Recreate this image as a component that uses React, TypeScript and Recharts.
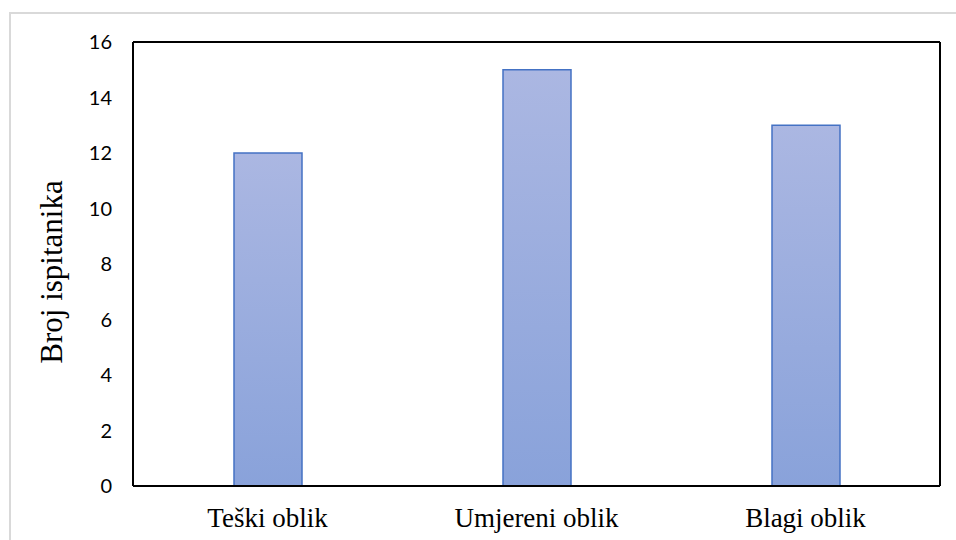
import React from 'react';
import { BarChart, Bar, XAxis, YAxis } from 'recharts';

const categories = ['Teški oblik', 'Umjereni oblik', 'Blagi oblik'];
const counts = [12, 15, 13];
const yTicks = [0, 2, 4, 6, 8, 10, 12, 14, 16];

const data = categories.map((name, i) => ({ name, value: counts[i] }));

const YLabel = (props: any) => {
  const vb = props.viewBox || {};
  const cx = 62;
  const cy = (vb.y ?? 0) + (vb.height ?? 0) / 2 + 8;
  return (
    <text
      x={cx}
      y={cy}
      transform={`rotate(-90, ${cx}, ${cy})`}
      textAnchor="middle"
      fontFamily="'Liberation Serif', 'Times New Roman', serif"
      fontSize={31}
      fill="#000"
    >
      Broj ispitanika
    </text>
  );
};

export default function App() {
  return (
    <div style={{ position: 'absolute', left: 0, top: 0, width: 956, height: 540, background: '#fff', overflow: 'hidden' }}>
      <div
        style={{
          position: 'absolute',
          left: 9,
          top: 12,
          width: 960,
          height: 540,
          borderLeft: '2px solid #d9d9d9',
          borderTop: '2px solid #d9d9d9',
        }}
      />
      <div style={{ position: 'absolute', left: 0, top: 0 }}>
        <BarChart
          width={956}
          height={540}
          data={data}
          margin={{ top: 41, right: 15, bottom: 0, left: 0 }}
        >
          <defs>
            <linearGradient id="barGrad" x1="0" y1="0" x2="0" y2="1">
              <stop offset="0%" stopColor="#abb7e2" />
              <stop offset="100%" stopColor="#89a2da" />
            </linearGradient>
          </defs>
          <XAxis
            dataKey="name"
            xAxisId="main"
            height={54}
            tickLine={false}
            tickSize={0}
            tickMargin={22}
            axisLine={{ stroke: '#000', strokeWidth: 2 }}
            tick={{ fill: '#000', fontSize: 27, fontFamily: "'Liberation Serif', 'Times New Roman', serif" }}
          />
          <XAxis
            xAxisId="top"
            orientation="top"
            dataKey="name"
            height={1}
            tick={false}
            tickLine={false}
            axisLine={{ stroke: '#000', strokeWidth: 2 }}
          />
          <YAxis
            yAxisId="main"
            width={133}
            domain={[0, 16]}
            ticks={yTicks}
            interval={0}
            tickLine={false}
            tickSize={0}
            tickMargin={21}
            axisLine={{ stroke: '#000', strokeWidth: 2 }}
            tick={{ fill: '#000', fontSize: 20, fontFamily: "Lato, 'Open Sans', sans-serif" }}
            label={<YLabel />}
          />
          <YAxis
            yAxisId="right"
            orientation="right"
            width={1}
            domain={[0, 16]}
            tick={false}
            tickLine={false}
            axisLine={{ stroke: '#000', strokeWidth: 2 }}
          />
          <Bar
            dataKey="value"
            xAxisId="main"
            yAxisId="main"
            barSize={68}
            fill="url(#barGrad)"
            stroke="#4472c4"
            strokeWidth={1.5}
            isAnimationActive={false}
          />
        </BarChart>
      </div>
    </div>
  );
}
